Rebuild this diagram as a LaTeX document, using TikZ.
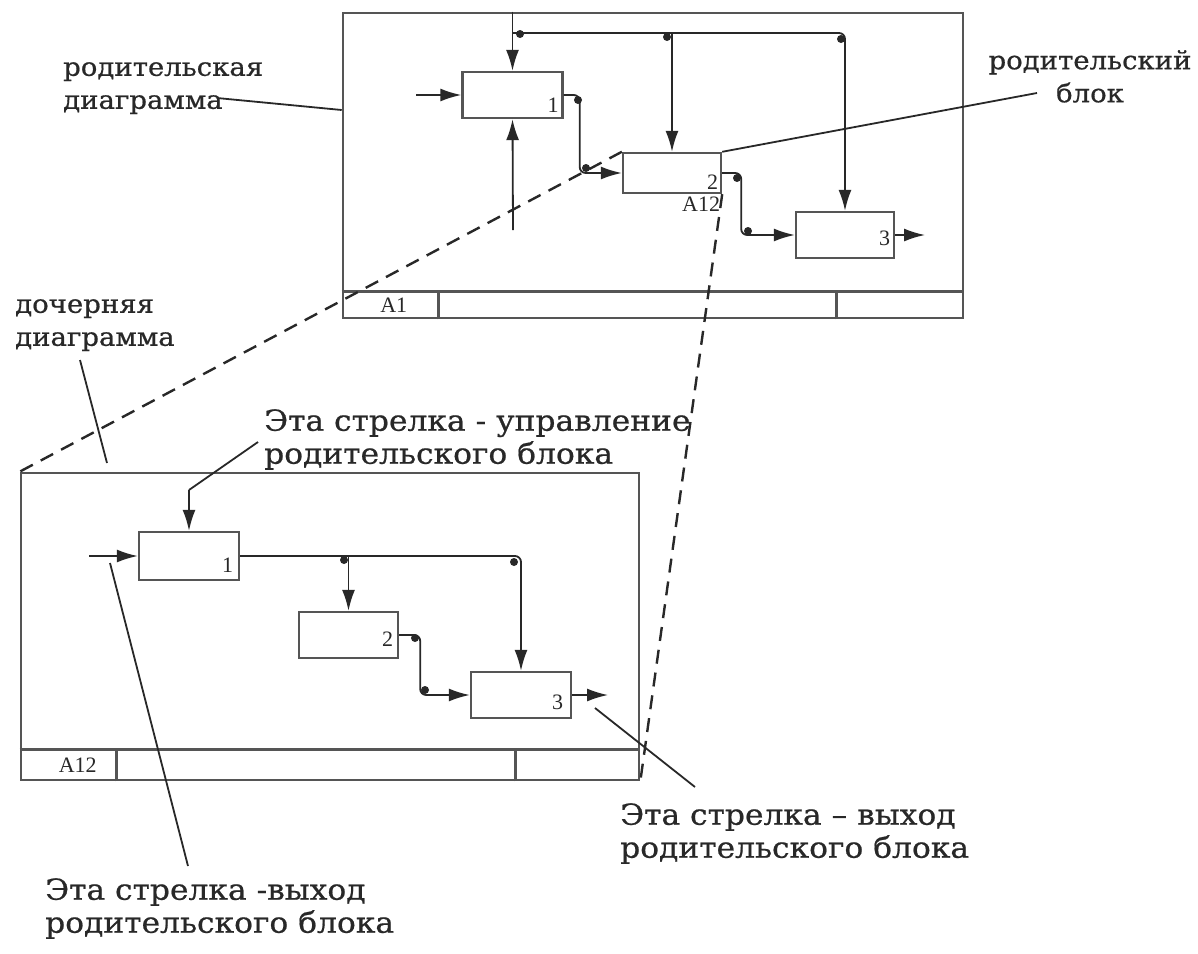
\documentclass[tikz,border=0pt]{standalone}
\usepackage{fontspec}
\setmainfont{DejaVu Serif}
\newfontfamily\tagfont[FakeStretch=1.08,FakeBold=0.6]{DejaVu Serif}
\newfontfamily\digitfont{Liberation Serif}
\usepackage{tikz}
\usetikzlibrary{arrows.meta,calc,positioning}
\definecolor{ink}{RGB}{85,85,85}
\definecolor{pen}{RGB}{40,40,40}

\begin{document}
\begin{tikzpicture}[x=1pt,y=-1pt,
  frame/.style={draw=ink,line width=2.6pt,inner sep=0pt},
  func/.style={draw=ink,line width=2.4pt,inner sep=0pt,minimum width=100pt},
  flow/.style={draw=pen,line width=1.8pt,rounded corners=6pt,-{Latex[length=21pt,width=13pt]}},
  lead/.style={draw=pen,line width=1.8pt},
  link/.style={draw=pen,line width=2.4pt,dash pattern=on 14pt off 9pt},
  note/.style={font=\tagfont\fontsize{25.5}{33}\selectfont,align=left,inner sep=0pt,text=pen},
  remark/.style={font=\tagfont\fontsize{29}{33}\selectfont,align=left,inner sep=0pt,text=pen},
  num/.style={font=\digitfont\fontsize{22}{22}\selectfont,inner sep=0pt,text=pen}
]
\useasboundingbox[fill=white] (0,0) rectangle (1198,953);

% parent diagram
\node[frame,minimum width=620pt,minimum height=305pt] (pf) at (653,165.5) {};
\draw[frame] ($(pf.south west)+(0,-28)$) -- ($(pf.south east)+(0,-28)$);
\draw[frame] ($(pf.south west)+(97,0)$) -- ++(0,-28);
\draw[frame] ($(pf.south west)+(495,0)$) -- ++(0,-28);
\node[num] (pa) at ($(pf.south west)+(52,-14)$) {A1};

\node[func,minimum height=46pt] (p1) at (512.5,95) {};
\node[func,minimum height=40pt,minimum width=98pt] (p2) at (672,173) {};
\node[func,minimum height=46pt,minimum width=98pt] (p3) at (845,235) {};
\node[num,anchor=south east] (p1n) at ($(p1.south east)+(-5,-7)$) {1};
\node[num,anchor=south east] (p2n) at ($(p2.south east)+(-4,-5)$) {2};
\node[num,anchor=south east] (p3n) at ($(p3.south east)+(-5,-13)$) {3};
\node[num,anchor=north east] (p2a) at ($(p2.south east)+(-2,3)$) {A12};

\coordinate (pin) at (416,95);
\coordinate (pmech) at (513,230);
\coordinate (pctl) at (513,33);
\coordinate (pout) at (925,235);
\draw[flow] (pin) -- (p1.west);
\draw[flow] (pmech) -- (p1.south);
\draw[flow] (p1.north |- pf.north) -- (p1.north);
\draw[flow] (pctl) -| (p3.north);
\draw[flow] (pctl -| p2.north) -- (p2.north);
\draw[flow] (p1.east) -- ++(16,0) |- (p2.west);
\draw[flow] (p2.east) -- ++(19,0) |- (p3.west);
\draw[flow] (p3.east) -- (pout);
\foreach \bx/\by in {520/34,667/37,841/39,578/100,586/168,737/178,748/231}
  \fill[pen] (\bx,\by) circle (4);

% child diagram
\node[frame,minimum width=618pt,minimum height=307pt] (cf) at (330,626.5) {};
\draw[frame] ($(cf.south west)+(0,-32)$) -- ($(cf.south east)+(0,-32)$);
\draw[frame] ($(cf.south west)+(97,0)$) -- ++(0,-32);
\draw[frame] ($(cf.south west)+(496,0)$) -- ++(0,-32);
\node[num] (ca) at ($(cf.south west)+(58,-16)$) {A12};

\node[func,minimum height=48pt] (c1) at (189,556) {};
\node[func,minimum height=46pt,minimum width=99pt] (c2) at (348.5,635) {};
\node[func,minimum height=46pt] (c3) at (521,695) {};
\node[num,anchor=south east] (c1n) at ($(c1.south east)+(-7,-9)$) {1};
\node[num,anchor=south east] (c2n) at ($(c2.south east)+(-6,-13)$) {2};
\node[num,anchor=south east] (c3n) at ($(c3.south east)+(-9,-9)$) {3};

\coordinate (cin) at (89,556);
\coordinate (cctl) at (189,490);
\coordinate (cout) at (608,695);
\draw[flow] (cin) -- (c1.west);
\draw[flow] (cctl) -- (c1.north);
\draw[flow] (c1.east) -| (c3.north);
\draw[flow] (c1.east -| c2.north) -- (c2.north);
\draw[flow] (c2.east) -- ++(21,0) |- (c3.west);
\draw[flow] (c3.east) -- (cout);
\foreach \bx/\by in {344/560,514/562,415/638,425/690}
  \fill[pen] (\bx,\by) circle (4);

% labels
\node[note,anchor=north west] (plbl) at (63,62) {родительская\\диаграмма};
\node[note,align=center,anchor=north] (blbl) at (1090,50) {родительский\\блок};
\node[note,anchor=north west] (dlbl) at (15,299) {дочерняя\\диаграмма};
\node[remark,anchor=north west] (ulbl) at (264,409) {Эта стрелка - управление\\родительского блока};
\node[remark,anchor=north west] (olbl) at (620,803) {Эта стрелка – выход\\родительского блока};
\node[remark,anchor=north west] (ilbl) at (45,878) {Эта стрелка -выход\\родительского блока};

\coordinate (plx) at (217,98);
\coordinate (blx) at (1037,93);
\coordinate (dl1) at (80,360);
\coordinate (dl2) at (107,463);
\coordinate (ulx) at (258,442);
\coordinate (ol1) at (595,708);
\coordinate (ol2) at (695,787);
\coordinate (il1) at (110,563);
\coordinate (il2) at (188,866);
\draw[lead] (plx) -- (pf.west |- 0,110);
\draw[lead] (blx) -- (p2.north east);
\draw[lead] (dl1) -- (dl2);
\draw[lead] (ulx) -- (cctl);
\draw[lead] (ol1) -- (ol2);
\draw[lead] (il1) -- (il2);

\draw[link] (p2.north west) -- (cf.north west);
\draw[link] (p2.south east) -- (cf.south east);
\end{tikzpicture}
\end{document}
